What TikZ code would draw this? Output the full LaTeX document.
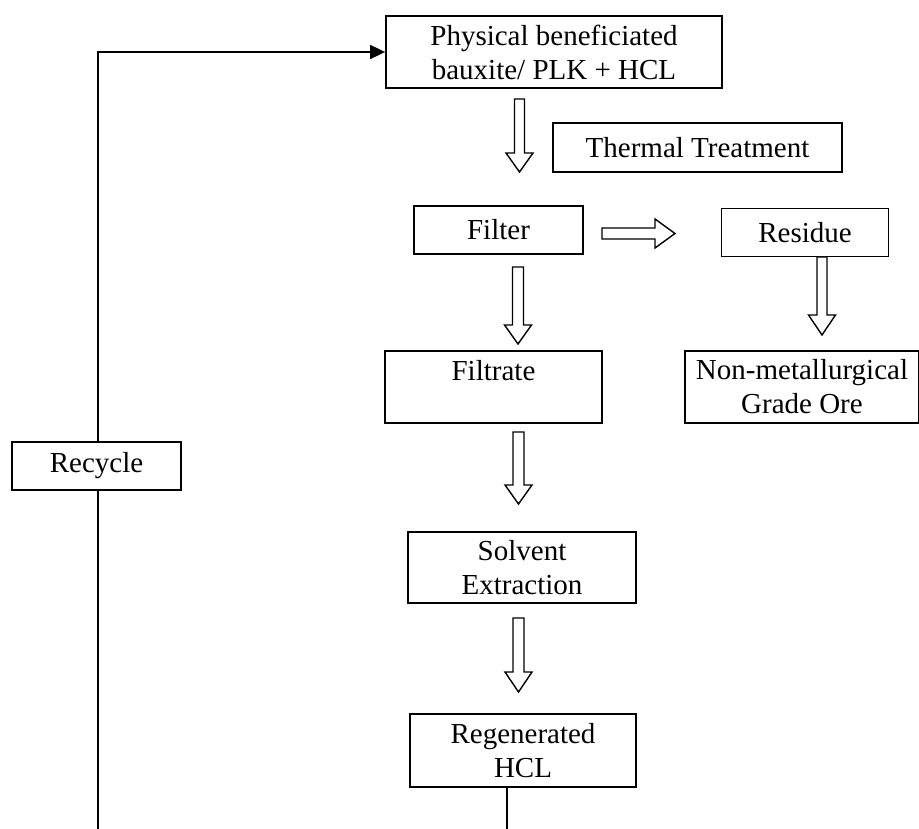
\documentclass[tikz,border=0pt]{standalone}
\usepackage{fontspec}
\setmainfont{Liberation Serif}
\usetikzlibrary{arrows.meta}
\newcommand\vblock[5]{% x, top, headstart, tip, shaft half
  \draw[blockarrow] (#1-#5,#2) -- (#1+#5,#2) -- (#1+#5,#3) -- (#1+13.5,#3) -- (#1,#4) -- (#1-13.5,#3) -- (#1-#5,#3) -- cycle;}
\begin{document}
\begin{tikzpicture}[x=1pt,y=-1pt,
  box/.style={draw, line width=1.8pt, inner sep=0pt, align=center,
    font=\fontsize{29}{34}\selectfont},
  blockarrow/.style={draw, line width=1.4pt, line join=miter, fill=white},
  conn/.style={line width=1.8pt}]
\useasboundingbox (0,0) rectangle (919,829);
\node[box, minimum width=336pt, minimum height=72pt] (top) at (554,52) {Physical beneficiated\\bauxite/ PLK + HCL};
\node[box, minimum width=289pt, minimum height=49pt] (thermal) at (697.5,147.5) {Thermal Treatment};
\node[box, minimum width=169pt, minimum height=48pt] (filter) at (498.5,230) {Filter};
\node[box, minimum width=167pt, minimum height=48pt] (residue) at (805,232.5) {Residue};
\node[box, minimum width=217pt, minimum height=72pt] (filtrate) at (493.5,387) {Filtrate\\\mbox{}};
\node[box, minimum width=234pt, minimum height=72pt] (nonmet) at (802,387) {Non-metallurgical\\Grade Ore};
\node[box, minimum width=169pt, minimum height=48pt] (recycle) at (96.5,466) {Recycle};
\node[box, minimum width=228pt, minimum height=71pt] (solvent) at (522,567.5) {Solvent\\Extraction};
\node[box, minimum width=226pt, minimum height=73pt] (regen) at (523,750.5) {Regenerated\\HCL};
\coordinate (recbot) at (98,829);
\coordinate (regbot) at (507,829);
% block arrows
\vblock{519.5}{99}{153}{172}{5}
\vblock{518}{267}{325}{344}{5.5}
\vblock{822}{257}{315}{335}{5}
\vblock{518.5}{432}{485}{504}{5.5}
\vblock{518.5}{618}{672}{692}{5.5}
\draw[blockarrow] (602,228) -- (655,228) -- (655,219) -- (675,233.5) -- (655,248) -- (655,239) -- (602,239) -- cycle;
% connectors
\draw[conn, -{Triangle[length=15pt,width=14pt]}] ([xshift=1.5pt]recycle.north) |- (top.west);
\draw[conn] ([xshift=1.5pt]recycle.south) -- (recbot);
\draw[conn] (regen.south -| regbot) -- (regbot);
\end{tikzpicture}
\end{document}
